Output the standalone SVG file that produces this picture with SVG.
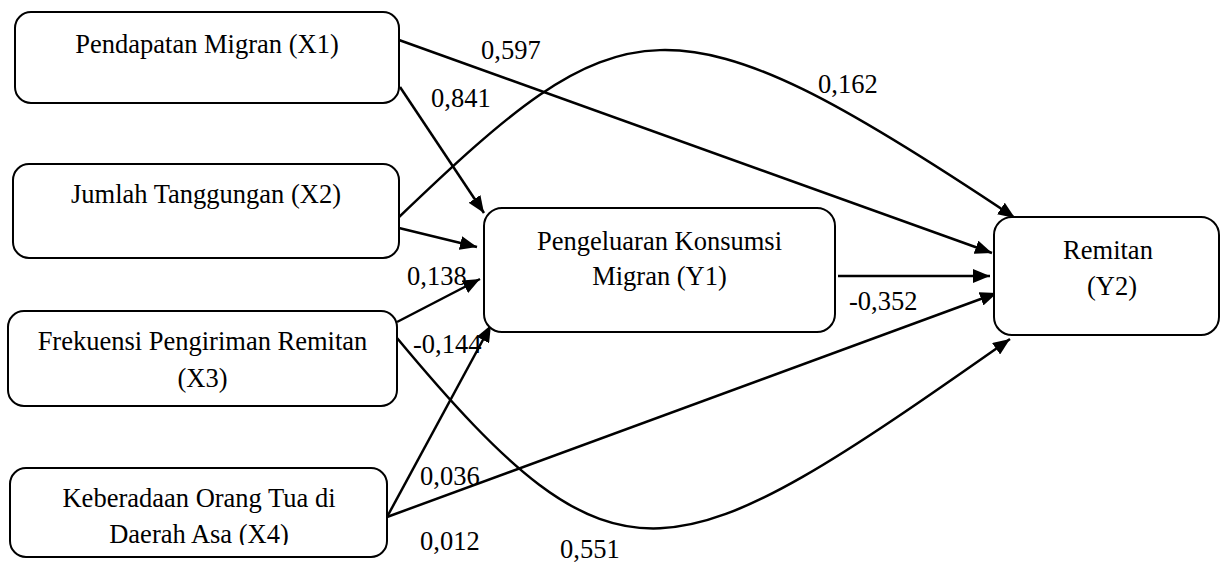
<svg xmlns="http://www.w3.org/2000/svg" width="1221" height="564" viewBox="0 0 1221 564">
<style>
.box{fill:#fff;stroke:#000;stroke-width:2}
.t{font-family:"Liberation Serif","Times New Roman",serif;font-size:26.5px;fill:#000;text-anchor:middle}
.lbl{font-family:"Liberation Serif","Times New Roman",serif;font-size:26.5px;fill:#000}
.c{fill:none;stroke:#000;stroke-width:2.5;marker-end:url(#ah)}
</style>
<defs>
<marker id="ah" markerUnits="userSpaceOnUse" markerWidth="17" markerHeight="14" refX="17" refY="7" orient="auto">
<path d="M0,0 L17,7 L0,14 z" fill="#000"/>
</marker>
<clipPath id="clipX4"><rect x="0" y="460" width="400" height="85"/></clipPath>
</defs>
<rect width="1221" height="564" fill="#fff"/>
<g id="connectors">
<path class="c" d="M400,87 L484,213"/>
<path class="c" d="M399,228 L477,247"/>
<path class="c" d="M397,322 L480,279"/>
<path class="c" d="M387,517 L491,325"/>
<path class="c" d="M838,276 L990,276"/>
<path class="c" d="M399,40 L992,253"/>
<path class="c" d="M397,219 C622,3 667,-15 1015,218"/>
<path class="c" d="M387,517 L997,293"/>
<path class="c" d="M397,338 C620,606 671,577 1010,339"/>
</g>
<g id="labels">
<text class="lbl" x="481" y="59">0,597</text>
<text class="lbl" x="431" y="107">0,841</text>
<text class="lbl" x="818" y="93">0,162</text>
<text class="lbl" x="407" y="285">0,138</text>
<text class="lbl" x="413" y="353">-0,144</text>
<text class="lbl" x="849" y="310">-0,352</text>
<text class="lbl" x="420" y="485">0,036</text>
<text class="lbl" x="420" y="550">0,012</text>
<text class="lbl" x="560" y="558">0,551</text>
</g>
<g id="X1">
<rect class="box" x="15" y="12" width="384" height="91" rx="16"/>
<text class="t" x="207" y="53">Pendapatan Migran (X1)</text>
</g>
<g id="X2">
<rect class="box" x="13" y="164" width="386" height="94" rx="16"/>
<text class="t" x="206" y="203">Jumlah Tanggungan (X2)</text>
</g>
<g id="X3">
<rect class="box" x="8" y="311" width="389" height="95" rx="16"/>
<text class="t" x="202.5" y="350">Frekuensi Pengiriman Remitan</text>
<text class="t" x="202.5" y="387">(X3)</text>
</g>
<g id="X4">
<rect class="box" x="10" y="468" width="377" height="89" rx="16"/>
<g clip-path="url(#clipX4)">
<text class="t" x="199" y="507">Keberadaan Orang Tua di</text>
<text class="t" x="199" y="543">Daerah Asa (X4)</text>
</g>
</g>
<g id="Y1">
<rect class="box" x="484" y="208" width="351" height="124" rx="18"/>
<text class="t" x="659.5" y="250">Pengeluaran Konsumsi</text>
<text class="t" x="659.5" y="285">Migran (Y1)</text>
</g>
<g id="Y2">
<rect class="box" x="994" y="217" width="225" height="118" rx="18"/>
<text class="t" x="1108" y="259">Remitan</text>
<text class="t" x="1112" y="295">(Y2)</text>
</g>
</svg>
